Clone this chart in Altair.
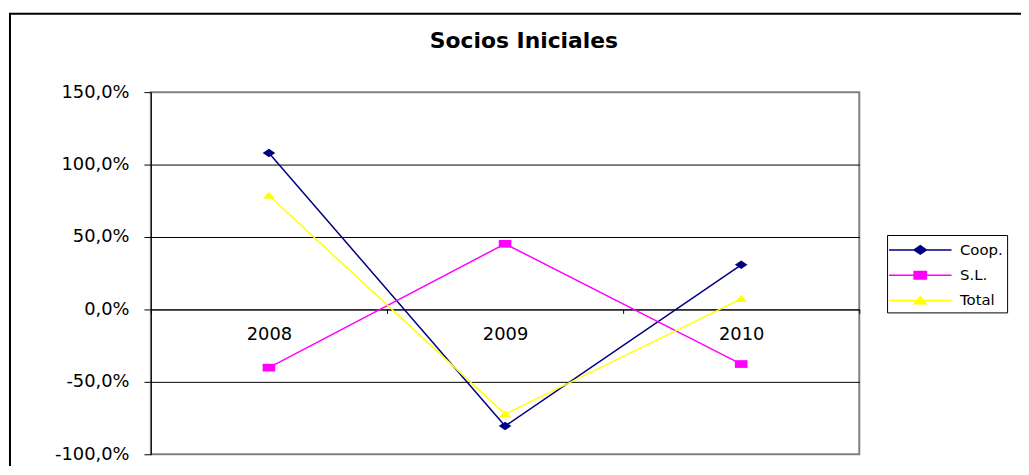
import altair as alt
import pandas as pd

title_text = "Socios Iniciales"
years = ["2008", "2009", "2010"]
series_names = ["Coop.", "S.L.", "Total"]
coop = [1.080, -0.805, 0.308]
sl = [-0.402, 0.453, -0.377]
total = [0.786, -0.723, 0.073]
colors = ["#000080", "#FF00FF", "#FFFF00"]
y_ticks = [-1.0, -0.5, 0.0, 0.5, 1.0, 1.5]

rows = []
for name, vals in zip(series_names, [coop, sl, total]):
    for yr, v in zip(years, vals):
        rows.append({"year": yr, "series": name, "value": v})
df = pd.DataFrame(rows)

marker_paths = [
    "M-0.62,0L0,-0.42L0.62,0L0,0.42Z",
    "M-0.62,-0.38H0.62V0.38H-0.62Z",
    "M-0.6,0.32L0,-0.38L0.6,0.32Z",
]
legend_paths = ["M-3.15,0H3.15" + p for p in marker_paths]

color_scale = alt.Scale(domain=series_names, range=colors)

x_enc = alt.X(
    "year:N",
    sort=years,
    scale=alt.Scale(type="band", paddingInner=0, paddingOuter=0),
    axis=alt.Axis(
        title=None,
        labelAngle=0,
        domainColor="#000000",
        domainWidth=1,
        tickColor="#000000",
        tickSize=4,
        tickBand="extent",
        labelFont="DejaVu Sans",
        labelFontSize=18,
        labelColor="#000000",
        labelPadding=12,
        offset=-146,
        grid=False,
    ),
)
y_enc = alt.Y(
    "value:Q",
    scale=alt.Scale(domain=[-1.0, 1.5], nice=False, zero=False),
    axis=alt.Axis(
        title=None,
        values=y_ticks,
        labelExpr="(datum.value < 0 ? '-' : '') + replace(format(abs(datum.value), '.1%'), '.', ',')",
        domainColor="#000000",
        domainWidth=1,
        tickColor="#000000",
        tickSize=7,
        tickWidth=1,
        labelFont="DejaVu Sans",
        labelFontSize=18,
        labelColor="#000000",
        labelPadding=15,
        gridColor="#000000",
        gridWidth=1,
        gridOpacity={"condition": {"test": "datum.value >= 1.5 || datum.value <= -1", "value": 0}, "value": 1},
    ),
)

border = alt.Chart(pd.DataFrame({"k": [0]})).mark_rect(
    filled=False, stroke="#000000", strokeWidth=2
).encode(
    x=alt.value(-142), x2=alt.value(1000), y=alt.value(-79), y2=alt.value(520)
)

title_layer = alt.Chart(pd.DataFrame({"t": [title_text]})).mark_text(
    font="DejaVu Sans", fontSize=22, fontWeight="bold", color="#000000",
    align="center", baseline="alphabetic",
).encode(
    x=alt.value(376), y=alt.value(-44), text="t:N"
)

lines = alt.Chart(df).mark_line(strokeWidth=1.5).encode(
    x=x_enc,
    y=y_enc,
    color=alt.Color("series:N", scale=color_scale, legend=None),
)

point_layers = []
for name, path in zip(series_names, marker_paths):
    point_layers.append(
        alt.Chart(df).transform_filter(alt.datum.series == name).mark_point(
            filled=True, size=420, opacity=1, shape=path
        ).encode(
            x=x_enc,
            y=y_enc,
            color=alt.Color("series:N", scale=color_scale, legend=None),
        )
    )

leg = alt.Legend(
    title=None,
    symbolStrokeColor={"expr": "scale('color', datum.value)"},
    symbolStrokeWidth=1.5,
)

legend_layer = alt.Chart(df).transform_filter("false").mark_point(
    filled=True, size=400, opacity=1
).encode(
    color=alt.Color("series:N", scale=color_scale, legend=leg),
    shape=alt.Shape("series:N", scale=alt.Scale(domain=series_names, range=legend_paths), legend=leg),
)

chart = alt.layer(border, title_layer, lines, *point_layers, legend_layer).resolve_legend(
    color="independent", shape="independent"
).properties(
    width=714,
    height=365,
    padding={"left": 144, "top": 83, "right": 163, "bottom": 10},
    autosize=alt.AutoSizeParams(type="none"),
    background="#FFFFFF",
).configure_view(
    fill="#C0C0C0", stroke="#808080", strokeWidth=2
).configure_legend(
    orient="none",
    legendX=742,
    legendY=144,
    padding=4,
    strokeColor="#000000",
    fillColor="#FFFFFF",
    symbolSize=400,
    symbolOffset=18.5,
    labelOffset=29,
    labelFont="DejaVu Sans",
    labelFontSize=15,
    labelColor="#000000",
    rowPadding=6.5,
    cornerRadius=0,
)

chart.save("out.html", embed_options={"renderer": "svg", "actions": False})
